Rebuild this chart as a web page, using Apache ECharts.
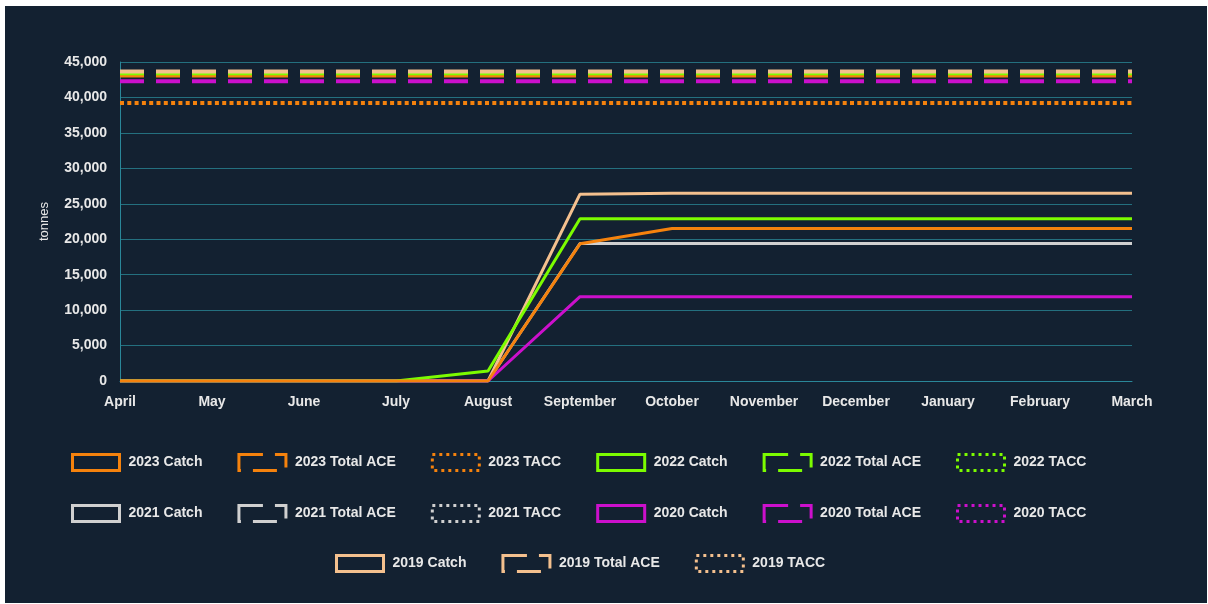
<!DOCTYPE html>
<html>
<head>
<meta charset="utf-8">
<script src="https://cdn.jsdelivr.net/npm/echarts@6/dist/echarts.min.js"></script>
<style>
html,body{margin:0;padding:0;background:#ffffff;width:1208px;height:604px;overflow:hidden;}
#panel{position:absolute;left:5px;top:6px;width:1202px;height:597px;background:#132131;}
#chart{position:absolute;left:0;top:0;width:1208px;height:604px;}
</style>
</head>
<body>
<div id="panel"></div>
<div id="chart"></div>
<script>
// ---- data ----
const months = ['April','May','June','July','August','September','October','November','December','January','February','March'];

const catch2023 = [0,0,0,0,0,19350,21500,21500,21500,21500,21500,21500];
const catch2022 = [0,0,0,0,1400,22900,22900,22900,22900,22900,22900,22900];
const catch2021 = [0,0,0,0,0,19400,19400,19400,19400,19400,19400,19400];
const catch2020 = [0,0,0,0,0,11900,11900,11900,11900,11900,11900,11900];
const catch2019 = [0,0,0,0,0,26350,26500,26500,26500,26500,26500,26500];

const ace2023 = [43100,43100,43100,43100,43100,43100,43100,43100,43100,43100,43100,43100];
const ace2022 = [43400,43400,43400,43400,43400,43400,43400,43400,43400,43400,43400,43400];
const ace2021 = [43500,43500,43500,43500,43500,43500,43500,43500,43500,43500,43500,43500];
const ace2020 = [42300,42300,42300,42300,42300,42300,42300,42300,42300,42300,42300,42300];
const ace2019 = [43650,43650,43650,43650,43650,43650,43650,43650,43650,43650,43650,43650];

const tacc2023 = [39200,39200,39200,39200,39200,39200,39200,39200,39200,39200,39200,39200];
const tacc2022 = [];
const tacc2021 = [];
const tacc2020 = [];
const tacc2019 = [];

const years = ['2023','2022','2021','2020','2019'];

// ---- styles ----
const FONT = 'Liberation Sans, Arial, sans-serif';
const colors = {'2023':'#f5820d','2022':'#7cfc00','2021':'#d0d0d0','2020':'#cc10cc','2019':'#f4c08e'};
const dataByYear = {
  '2023':{c:catch2023,a:ace2023,t:tacc2023},
  '2022':{c:catch2022,a:ace2022,t:tacc2022},
  '2021':{c:catch2021,a:ace2021,t:tacc2021},
  '2020':{c:catch2020,a:ace2020,t:tacc2020},
  '2019':{c:catch2019,a:ace2019,t:tacc2019}
};
const catchZ = {'2023':10,'2022':8,'2021':6,'2020':7,'2019':5};
const aceZ = {'2023':4,'2022':5,'2021':3,'2020':2,'2019':6};

const series = [];
years.forEach(y => {
  const d = dataByYear[y];
  series.push({name:y+' Catch',type:'line',data:d.c,symbol:'none',z:catchZ[y],
    lineStyle:{color:colors[y],width:3,type:'solid'},itemStyle:{color:colors[y]}});
  series.push({name:y+' Total ACE',type:'line',data:d.a,symbol:'none',z:aceZ[y],
    lineStyle:{color:colors[y],width:4,type:[24,12]},itemStyle:{color:colors[y]}});
  series.push({name:y+' TACC',type:'line',data:d.t,symbol:'none',z:1,
    lineStyle:{color:colors[y],width:4,type:[4,3.3]},itemStyle:{color:colors[y]}});
});

function legendItem(name, y, kind){
  let bt = 'solid';
  if (kind==='a') bt = [24,12];
  if (kind==='t') bt = [3,4];
  return {name:name, icon:'rect', itemStyle:{color:'transparent',borderColor:colors[y],borderWidth:3,borderType:bt}};
}
function legendRow(ys, left, top){
  const data = [];
  ys.forEach(y => {
    data.push(legendItem(y+' Catch',y,'c'));
    data.push(legendItem(y+' Total ACE',y,'a'));
    data.push(legendItem(y+' TACC',y,'t'));
  });
  return {data:data, top:top, left:left, orient:'horizontal', itemWidth:47, itemHeight:16,
    itemGap:35, selectedMode:false, padding:0,
    textStyle:{color:'#e8e8e8',fontSize:14,fontWeight:'bold',fontFamily:FONT,padding:[0,0,0,4]}};
}

const chart = echarts.init(document.getElementById('chart'), null, {renderer:'canvas'});
chart.setOption({
  animation:false,
  backgroundColor:'transparent',
  grid:{left:120,right:76,top:62,height:319,containLabel:false},
  xAxis:{type:'category',data:months,boundaryGap:false,
    axisLine:{show:true,lineStyle:{color:'#2a8799',width:1}},
    axisTick:{show:false},
    axisLabel:{color:'#e8e8e8',fontSize:14,fontWeight:'bold',margin:14,
      fontFamily:FONT,interval:0},
    splitLine:{show:false}},
  yAxis:{type:'value',min:0,max:45000,interval:5000,
    name:'tonnes',nameLocation:'middle',nameGap:69,nameRotate:90,
    nameTextStyle:{color:'#e8e8e8',fontSize:13,fontFamily:FONT},
    axisLine:{show:true,lineStyle:{color:'#2a8799',width:1}},
    axisTick:{show:false},
    axisLabel:{color:'#e8e8e8',fontSize:14,fontWeight:'bold',margin:13,
      fontFamily:FONT,
      formatter:v=>v.toLocaleString('en-US')},
    splitLine:{show:true,lineStyle:{color:'#24707f',width:1}}},
  legend:[legendRow(['2023','2022'],71,453),legendRow(['2021','2020'],71,504),legendRow(['2019'],335,554)],
  series:series
});
</script>
</body>
</html>
